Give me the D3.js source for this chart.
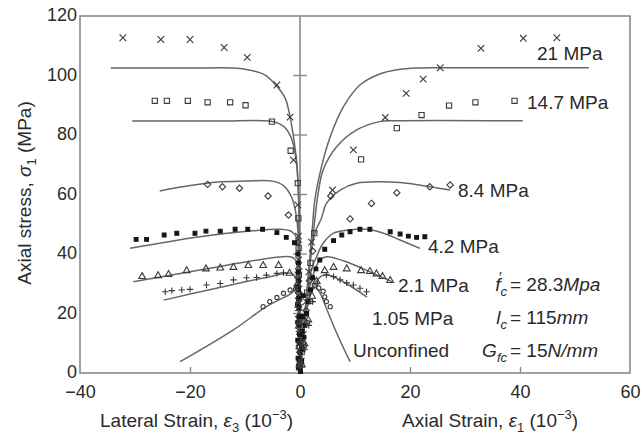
<!DOCTYPE html>
<html>
<head>
<meta charset="utf-8">
<script src="https://cdn.jsdelivr.net/npm/d3@7"></script>
<style>
  body { margin: 0; background: #fff; }
  svg { display: block; }
</style>
</head>
<body>
<svg id="chart" width="641" height="435"></svg>
<script>
// Confined concrete: axial stress vs lateral (left) and axial (right) strain
const seriesLabels = ["21 MPa", "14.7 MPa", "8.4 MPa", "4.2 MPa", "2.1 MPa", "1.05 MPa", "Unconfined"];
const markerKinds  = ["x", "square", "diamond", "filled", "triangle", "plus", "circle"];

const xTicks = [-40, -20, 0, 20, 40, 60];
const yTicks = [0, 20, 40, 60, 80, 100, 120];
const centreTicks = [20, 40, 60, 80, 100];

// Test results [strain (1e-3), stress (MPa)] – lateral side (negative strain)
const testLateral = [
  [[-32.2,112.7],[-25.3,112.1],[-20,112.1],[-13.8,109.4],[-9.6,106.1],[-4.2,96.8],[-1.8,86],[-1.2,71.6],[-0.4,56.5],[-0.3,46],[-0.25,38],[-0.4,33],[-0.2,30],[-0.35,26],[-0.15,22],[-0.3,18],[-0.1,14],[-0.2,10],[-0.05,6],[-0.1,2]],
  [[-26.4,91.5],[-24.2,91.5],[-20.4,91.5],[-16.8,91],[-12.7,91],[-9.9,90],[-5.1,84.5],[-1.7,74.7],[-0.4,63.8],[-0.3,52],[-0.25,42],[-0.2,33],[-0.15,25],[-0.1,17],[-0.05,9],[0,3]],
  [[-16.8,63.4],[-14.1,62.6],[-11,62.1],[-5.8,59.5],[-2.1,53.1],[-0.35,44],[-0.25,35],[-0.2,27],[-0.12,19],[-0.08,11],[-0.03,4]],
  [[-29.8,44.9],[-27.9,44.9],[-24.7,46.4],[-22.4,47],[-19.1,47],[-17.1,47.7],[-14.5,47.7],[-11.8,48.3],[-9.5,48.3],[-6.8,48.3],[-4.2,47.2],[-2.5,45.6],[-1,43.8],[-0.4,40],[-0.3,37],[-0.3,34],[-0.25,31],[-0.5,29],[-0.25,28],[-0.2,25],[-0.45,23],[-0.2,22],[-0.15,19],[-0.4,17],[-0.15,16],[-0.1,13],[-0.4,11],[-0.1,10],[-0.05,7],[-0.35,5],[-0.05,4],[-0.3,2],[0,1.5],[0.1,0.5]],
  [[-28.7,32.6],[-25.8,32.9],[-23.9,33.3],[-20.6,34.6],[-17.1,35.2],[-14.5,35.5],[-12.1,35.7],[-9.4,36.3],[-6.7,36.3],[-3.9,36.3],[-1.9,33.7],[-0.5,30],[-0.3,23],[-0.2,16],[-0.1,9],[-0.05,3]],
  [[-24.5,27.3],[-23.3,27.7],[-21.5,27.9],[-20,28.1],[-17,29.6],[-14.5,30.1],[-12.1,31.3],[-9.7,32],[-7.9,32.1],[-6.1,32.9],[-4.2,33.5],[-3,33.7],[-0.6,28],[-0.35,21],[-0.2,14],[-0.1,7],[-0.05,2]],
  [[-6.7,22.3],[-5.5,24],[-4.2,25.4],[-3,26.8],[-1.8,27.9],[-0.8,28.2],[-0.3,24],[-0.2,17],[-0.1,10],[-0.05,4]]
];

// Test results – axial side
const testAxial = [
  [[46.7,112.7],[40.6,112.5],[32.9,109.1],[25.5,102.6],[22.4,98.8],[19.3,94],[15.5,85.9],[9.7,75],[5.9,61.5],[2.1,44],[1.6,34],[1.1,24],[0.6,13],[0.2,4]],
  [[39,91.5],[31.9,91],[27.1,89.9],[22.1,86.7],[17.6,82.3],[11.1,71.8],[2.6,47],[1.9,37],[1.3,27],[0.8,17],[0.3,7]],
  [[27.3,63.2],[23.6,62.6],[17.6,60.6],[13,57],[9.1,51.8],[5.6,59.5],[2.3,41],[1.7,31],[1.1,21],[0.5,10]],
  [[22.7,45.8],[21.2,45.6],[19.7,46],[18.2,46.7],[16.4,47.5],[12.7,48.3],[10.9,48.3],[9.1,47.5],[7.6,46.4],[6.1,44.5],[4.5,41.6],[3.6,38],[2.9,35],[2.3,32],[1.9,28],[1.5,24],[1.2,20],[0.9,16],[0.7,12],[0.5,8],[0.3,4],[0.6,26],[0.5,19],[0.4,14],[0.3,9]],
  [[16.4,31.3],[15,32.6],[13.9,33.5],[12.7,34.3],[11.1,34.6],[8.5,35.2],[6.1,35.7],[4.5,34.6],[3,31],[2.2,26],[1.5,18],[0.8,10],[0.3,3]],
  [[12.1,27.3],[10.9,28.5],[9.7,29.6],[8.5,30.3],[7.3,31.3],[6.1,32.4],[4.8,32.9],[3.2,30],[2.3,24],[1.6,16],[0.9,8],[0.4,2]],
  [[2.6,29.5],[3.4,28.6],[4.2,27.5],[4.5,25.6],[4.8,24],[5.5,22.3],[2,24],[1.4,17],[0.8,9]]
];

// Model predictions – lateral branch
const modelLateral = [
  [[-34.4,102.5],[-20,102.5],[-12,102.5],[-9.1,101.8],[-6.4,100.2],[-4.4,96.8],[-2.7,92.4],[-1.8,86],[-1.1,78.3],[-0.55,70],[-0.25,58],[-0.1,40],[-0.03,20],[0,0]],
  [[-30.5,84.7],[-15,84.7],[-5.5,84.7],[-3.8,83.8],[-2.7,82.4],[-1.45,78.3],[-0.7,71.6],[-0.3,61.5],[-0.12,45],[-0.04,22],[0,0]],
  [[-25.5,61.2],[-20,63],[-15,64.2],[-10,64.5],[-5,64.5],[-3,63],[-1.5,59],[-0.6,52],[-0.2,40],[-0.05,20],[0,0]],
  [[-30.9,41.9],[-18.2,45.8],[-9.1,47.7],[-3.6,48.3],[-1.5,47.5],[-0.6,45.3],[-0.25,38],[-0.08,20],[0,0]],
  [[-30.3,30.7],[-16.4,35.2],[-9.1,37.6],[-1.8,39.1],[-0.9,38.2],[-0.35,33],[-0.1,18],[0,0]],
  [[-24.8,24.5],[-15.2,28.5],[-6.1,32.1],[-1.5,33.5],[-0.6,31],[-0.2,20],[0,0]],
  [[-21.8,3.8],[-12.1,14.5],[-6.1,22.3],[-1.8,26.5],[-0.5,28.3],[-0.15,25],[-0.05,15],[0,0]]
];

// Model predictions – axial branch
const modelAxial = [
  [[0,0],[1.2,26],[2.3,50],[2.7,58.2],[3.9,69.3],[5.5,79.4],[7.9,89.5],[10.9,96.8],[14.5,100.5],[18,102],[21.2,102.5],[25.5,102.6],[52.5,102.6]],
  [[0,0],[1.3,27],[2.6,50],[3.3,60.4],[4.2,68.2],[6.7,76.1],[10.3,81.7],[14.5,84.5],[17,84.8],[40.5,84.8]],
  [[0,0],[1.5,32],[2.3,44],[3,48.5],[3.9,52],[4.8,57],[7.3,61.5],[10.3,63.8],[14.5,64.3],[18.2,64],[23.6,62.6],[27.3,61.5]],
  [[0,0],[1.4,28],[2.3,36],[3,39],[4.2,43.6],[6.1,47],[9.1,48.1],[12.1,48.3],[15.2,47],[18.2,44.7],[21.8,41.9]],
  [[0,0],[1.4,26],[2.4,33],[3.6,38],[4.85,39.1],[9.1,36.9],[13.3,33.5],[16.7,30.7]],
  [[0,0],[1.3,22],[2.4,29],[3.8,32.5],[5,33],[8,30.5],[12.2,25.5]],
  [[0,0],[1.3,22],[2.3,28],[2.9,28.6],[3.6,27],[4.85,21.5],[6.7,13.3],[9.1,3.8]]
];

// ---------------------------------------------------------------------------
const FONT = "'Liberation Sans', Arial, Helvetica, sans-serif";
const INK = "#2a2a2a";
const FRAME = "#8a8a8a";
const LINE = "#676767";
const MARK = "#3a3a3a";

const svg = d3.select("#chart");
svg.append("rect").attr("width", 641).attr("height", 435).attr("fill", "#fff");

const x = d3.scaleLinear().domain([-40, 60]).range([80, 630]);
const y = d3.scaleLinear().domain([0, 120]).range([373, 16]);

// axes
const xAxis = svg.append("g")
  .attr("transform", `translate(0,${y(0)})`)
  .call(d3.axisBottom(x).tickValues(xTicks).tickSizeInner(-6).tickSizeOuter(0).tickPadding(12));
const yAxis = svg.append("g")
  .attr("transform", `translate(${x(-40)},0)`)
  .call(d3.axisLeft(y).tickValues(yTicks).tickSize(0).tickPadding(3));
[xAxis, yAxis].forEach(g => {
  g.select(".domain").remove();
  g.selectAll(".tick line").attr("stroke", FRAME).attr("stroke-width", 1.4);
  g.selectAll(".tick text").attr("fill", INK).style("font-family", FONT).style("font-size", "18px");
});
yAxis.selectAll(".tick text").attr("dy", "0.25em");
xAxis.selectAll(".tick").filter(d => d === -40 || d === 0 || d === 60).select("line").remove();

// frame and the zero-strain divider
svg.append("rect")
  .attr("x", x(-40)).attr("y", y(120))
  .attr("width", x(60) - x(-40)).attr("height", y(0) - y(120))
  .attr("fill", "none").attr("stroke", FRAME).attr("stroke-width", 1.6);
svg.append("line")
  .attr("x1", x(0)).attr("x2", x(0)).attr("y1", y(120)).attr("y2", y(0))
  .attr("stroke", FRAME).attr("stroke-width", 1.6);
svg.selectAll("line.ctick").data(centreTicks).join("line")
  .attr("class", "ctick")
  .attr("x1", x(0) - 7).attr("x2", x(0) + 7)
  .attr("y1", d => y(d)).attr("y2", d => y(d))
  .attr("stroke", FRAME).attr("stroke-width", 1.4);

// model curves
const curve = d3.line().x(d => x(d[0])).y(d => y(d[1])).curve(d3.curveCatmullRom.alpha(0.5));
const curves = svg.append("g").attr("fill", "none").attr("stroke", LINE).attr("stroke-width", 1.5);
modelLateral.forEach(s => curves.append("path").attr("d", curve(s)));
modelAxial.forEach(s => curves.append("path").attr("d", curve(s)));

// marker shapes
function markerPath(kind) {
  switch (kind) {
    case "x": { const r = 3.3; return `M${-r},${-r}L${r},${r}M${-r},${r}L${r},${-r}`; }
    case "square": { const r = 2.6; return `M${-r},${-r}H${r}V${r}H${-r}Z`; }
    case "diamond": { const r = 3.2; return `M0,${-r}L${r},0L0,${r}L${-r},0Z`; }
    case "filled": { const r = 1.9; return `M${-r},${-r}H${r}V${r}H${-r}Z`; }
    case "triangle": { const r = 3.4; return `M0,${-r}L${r},${r * 0.75}L${-r},${r * 0.75}Z`; }
    case "plus": { const r = 3.2; return `M${-r},0H${r}M0,${-r}V${r}`; }
    case "circle": { const r = 2.1; return `M${r},0A${r},${r} 0 1,1 ${-r},0A${r},${r} 0 1,1 ${r},0Z`; }
  }
}
const marks = svg.append("g");
seriesLabels.forEach((name, i) => {
  const kind = markerKinds[i];
  const pts = testLateral[i].concat(testAxial[i]);
  marks.append("g").selectAll("path").data(pts).join("path")
    .attr("transform", d => `translate(${x(d[0])},${y(d[1])})`)
    .attr("d", markerPath(kind))
    .attr("fill", kind === "filled" ? "#151515" : "none")
    .attr("stroke", kind === "filled" ? "#151515" : MARK)
    .attr("stroke-width", 1.1);
});

// rich text helper: segments {t, it, sub, sup}
function rich(g, px, py, segs, opts = {}) {
  const t = g.append("text")
    .attr("x", px).attr("y", py)
    .attr("fill", INK)
    .style("font-family", FONT)
    .style("font-size", (opts.size || 19) + "px")
    .attr("text-anchor", opts.anchor || "start");
  if (opts.transform) t.attr("transform", opts.transform);
  let shift = 0;
  segs.forEach(s => {
    const target = s.sub ? 5 : s.sup ? -8 : 0;
    const ts = t.append("tspan").text(s.t).attr("dy", target - shift);
    shift = target;
    if (s.it) ts.style("font-style", "italic");
    if (s.sub || s.sup) ts.style("font-size", "13px");
  });
  return t;
}

// series labels
const labelPos = [[537, 60], [527, 109], [458, 197], [428, 253], [398, 292], [372, 325], [353, 357]];
seriesLabels.forEach((name, i) => rich(svg, labelPos[i][0], labelPos[i][1], [{ t: name }]));

// material parameters
rich(svg, 507, 291, [{ t: "f", it: true }, { t: "c", it: true, sub: true }], { anchor: "end" });
svg.append("text").attr("x", 499).attr("y", 282).text("′")
  .attr("fill", INK).style("font-family", FONT).style("font-size", "14px");
rich(svg, 510, 291, [{ t: "= 28.3" }, { t: "Mpa", it: true }]);
rich(svg, 507, 324, [{ t: "l", it: true }, { t: "c", it: true, sub: true }], { anchor: "end" });
rich(svg, 510, 324, [{ t: "= 115" }, { t: "mm", it: true }]);
rich(svg, 507, 357, [{ t: "G", it: true }, { t: "fc", it: true, sub: true }], { anchor: "end" });
rich(svg, 510, 357, [{ t: "= 15" }, { t: "N/mm", it: true }]);

// axis titles
rich(svg, 100, 427, [{ t: "Lateral Strain, " }, { t: "ε", it: true }, { t: "3", sub: true }, { t: " (10" }, { t: "−3", sup: true }, { t: ")" }]);
rich(svg, 402, 427, [{ t: "Axial Strain, " }, { t: "ε", it: true }, { t: "1", sub: true }, { t: " (10" }, { t: "−3", sup: true }, { t: ")" }]);
rich(svg, 0, 0, [{ t: "Axial stress, " }, { t: "σ", it: true }, { t: "1", sub: true }, { t: " (MPa)" }],
  { anchor: "middle", transform: "translate(31,193) rotate(-90)" });
</script>
</body>
</html>
